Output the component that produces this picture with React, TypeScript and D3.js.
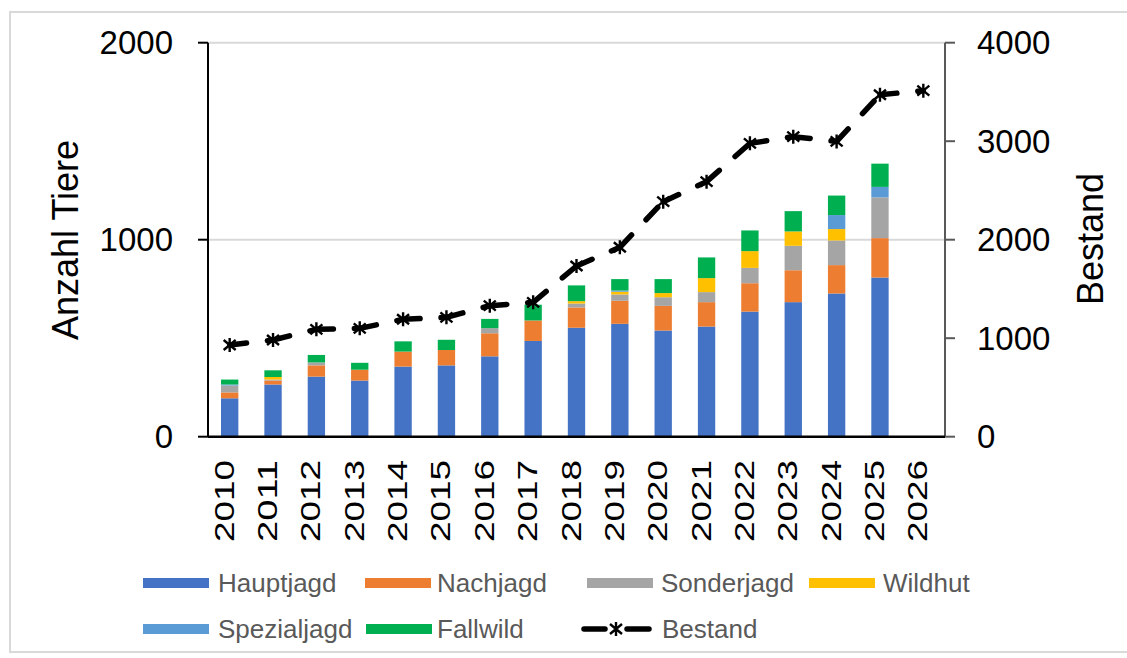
import React from "react";
import * as d3 from "d3";

const years = ["2010","2011","2012","2013","2014","2015","2016","2017","2018","2019","2020","2021","2022","2023","2024","2025","2026"];
const hauptjagd = [195,265,305,285,356,362,408,486,553,573,539,559,635,683,727,808,0];
const nachjagd = [30,20,57,55,76,78,117,104,103,117,125,124,144,162,144,200,0];
const sonderjagd = [35,5,15,0,0,0,26,0,20,32,44,51,78,124,125,207,0];
const wildhut = [0,13,0,0,0,0,0,0,12,14,21,71,85,73,58,0,0];
const spezialjagd = [5,0,0,0,0,0,0,0,0,6,0,0,0,0,71,53,0];
const fallwild = [25,34,38,35,52,52,47,80,80,58,71,105,105,103,99,118,0];
const bestand = [931,982,1090,1100,1192,1212,1330,1364,1733,1923,2386,2589,2978,3046,2998,3472,3513];
const leftTicks = [0,1000,2000];
const rightTicks = [0,1000,2000,3000,4000];

const seriesNames = ["Hauptjagd","Nachjagd","Sonderjagd","Wildhut","Spezialjagd","Fallwild"];
const seriesData = [hauptjagd,nachjagd,sonderjagd,wildhut,spezialjagd,fallwild];
const colors = ["#4472C4","#ED7D31","#A5A5A5","#FFC000","#5B9BD5","#00B050"];

const FONT = "'Liberation Sans', Arial, sans-serif";

const plotL = 208, plotR = 945, plotT = 42.7, plotB = 436.7;

function Star({ x, y }: { x: number; y: number }) {
  const s = 6;
  return (
    <path
      d={`M${x},${y - s - 1}L${x},${y + s + 1}M${x - s},${y - s + 1}L${x + s},${y + s - 1}M${x - s},${y + s - 1}L${x + s},${y - s + 1}`}
      stroke="#000"
      strokeWidth={2.4}
      fill="none"
    />
  );
}

export default function App() {
  const x = d3.scaleBand<string>().domain(years).range([plotL, plotR]).paddingInner(0.6).paddingOuter(0.3);
  const yL = d3.scaleLinear().domain([0, 2000]).range([plotB, plotT]);
  const yR = d3.scaleLinear().domain([0, 4000]).range([plotB, plotT]);

  const table = years.map((yr, i) => {
    const o: any = { year: yr };
    seriesNames.forEach((n, k) => (o[n] = seriesData[k][i]));
    return o;
  });
  const stacked = d3.stack<any>().keys(seriesNames)(table);

  const cx = (yr: string) => (x(yr) as number) + x.bandwidth() / 2;

  const segs = bestand.slice(1).map((v, i) => {
    const x0 = cx(years[i]), y0 = yR(bestand[i]);
    const x1 = cx(years[i + 1]), y1 = yR(v);
    return { x0, y0, x1, y1 };
  });

  const legendRow1 = [
    { name: "Hauptjagd", sx: 143, tx: 218 },
    { name: "Nachjagd", sx: 365, tx: 437 },
    { name: "Sonderjagd", sx: 587, tx: 661 },
    { name: "Wildhut", sx: 809, tx: 883 },
  ];
  const legendRow2 = [
    { name: "Spezialjagd", sx: 143, tx: 218 },
    { name: "Fallwild", sx: 366, tx: 437 },
  ];

  return (
    <svg
      width={1127}
      height={658}
      style={{ position: "absolute", left: 0, top: 0, background: "#fff" }}
      fontFamily={FONT}
    >
      <rect x={0} y={0} width={1127} height={658} fill="#fff" />
      <rect x={10} y={12} width={1130} height={640} fill="none" stroke="#d9d9d9" strokeWidth={2} />

      {/* gridlines */}
      {leftTicks.filter((t) => t > 0).map((t) => (
        <line key={t} x1={plotL} x2={plotR} y1={yL(t)} y2={yL(t)} stroke="#d9d9d9" strokeWidth={2} />
      ))}

      {/* bars */}
      {stacked.map((layer, k) => (
        <g key={layer.key} fill={colors[k]}>
          {layer.map((d, i) =>
            d[1] - d[0] > 0 ? (
              <rect
                key={i}
                x={x(years[i]) as number}
                width={x.bandwidth()}
                y={yL(d[1])}
                height={yL(d[0]) - yL(d[1])}
              />
            ) : null
          )}
        </g>
      ))}

      {/* axes */}
      <line x1={plotL} x2={plotL} y1={plotT} y2={plotB} stroke="#000" strokeWidth={2} />
      {leftTicks.map((t) => (
        <g key={t}>
          <line x1={plotL - 10} x2={plotL} y1={yL(t)} y2={yL(t)} stroke="#000" strokeWidth={2} />
          <text x={173} y={yL(t)} dy="0.35em" textAnchor="end" fontSize={33} fill="#000">
            {t}
          </text>
        </g>
      ))}
      <line x1={plotR} x2={plotR} y1={plotT} y2={plotB} stroke="#595959" strokeWidth={2} />
      {rightTicks.map((t) => (
        <g key={t}>
          <line x1={plotR} x2={plotR + 10} y1={yR(t)} y2={yR(t)} stroke="#595959" strokeWidth={2} />
          <text x={977} y={yR(t)} dy="0.35em" textAnchor="start" fontSize={33} fill="#000">
            {t}
          </text>
        </g>
      ))}
      <line x1={plotL} x2={plotR} y1={plotB} y2={plotB} stroke="#000" strokeWidth={2.5} />

      {/* year labels */}
      {years.map((yr) => (
        <text
          key={yr}
          transform={`translate(${cx(yr) + 4},460) rotate(-90)`}
          textAnchor="end"
          fontSize={27}
          textLength={82}
          lengthAdjust="spacingAndGlyphs"
          fill="#000"
        >
          {yr}
        </text>
      ))}

      {/* axis titles */}
      <text transform={`translate(78,240) rotate(-90)`} textAnchor="middle" fontSize={36} fill="#000">
        Anzahl Tiere
      </text>
      <text transform={`translate(1103,239) rotate(-90)`} textAnchor="middle" fontSize={36} fill="#000">
        Bestand
      </text>

      {/* bestand line */}
      {segs.map((s, i) => (
        <line
          key={i}
          x1={s.x0}
          y1={s.y0}
          x2={s.x1}
          y2={s.y1}
          stroke="#000"
          strokeWidth={5.5}
          strokeLinecap="round"
          strokeDasharray="17 21"
        />
      ))}
      {bestand.map((v, i) => (
        <Star key={i} x={cx(years[i])} y={yR(v)} />
      ))}

      {/* legend */}
      {legendRow1.map((l) => (
        <g key={l.name}>
          <rect x={l.sx} y={578} width={66} height={10} fill={colors[seriesNames.indexOf(l.name)]} />
          <text x={l.tx} y={592} fontSize={26} fill="#595959">
            {l.name}
          </text>
        </g>
      ))}
      {legendRow2.map((l) => (
        <g key={l.name}>
          <rect x={l.sx} y={624} width={66} height={10} fill={colors[seriesNames.indexOf(l.name)]} />
          <text x={l.tx} y={638} fontSize={26} fill="#595959">
            {l.name}
          </text>
        </g>
      ))}
      <g>
        <line x1={584} x2={605} y1={629} y2={629} stroke="#000" strokeWidth={5.5} strokeLinecap="round" />
        <line x1={627} x2={649} y1={629} y2={629} stroke="#000" strokeWidth={5.5} strokeLinecap="round" />
        <Star x={616} y={629} />
        <text x={662} y={638} fontSize={26} fill="#595959">
          Bestand
        </text>
      </g>
    </svg>
  );
}
